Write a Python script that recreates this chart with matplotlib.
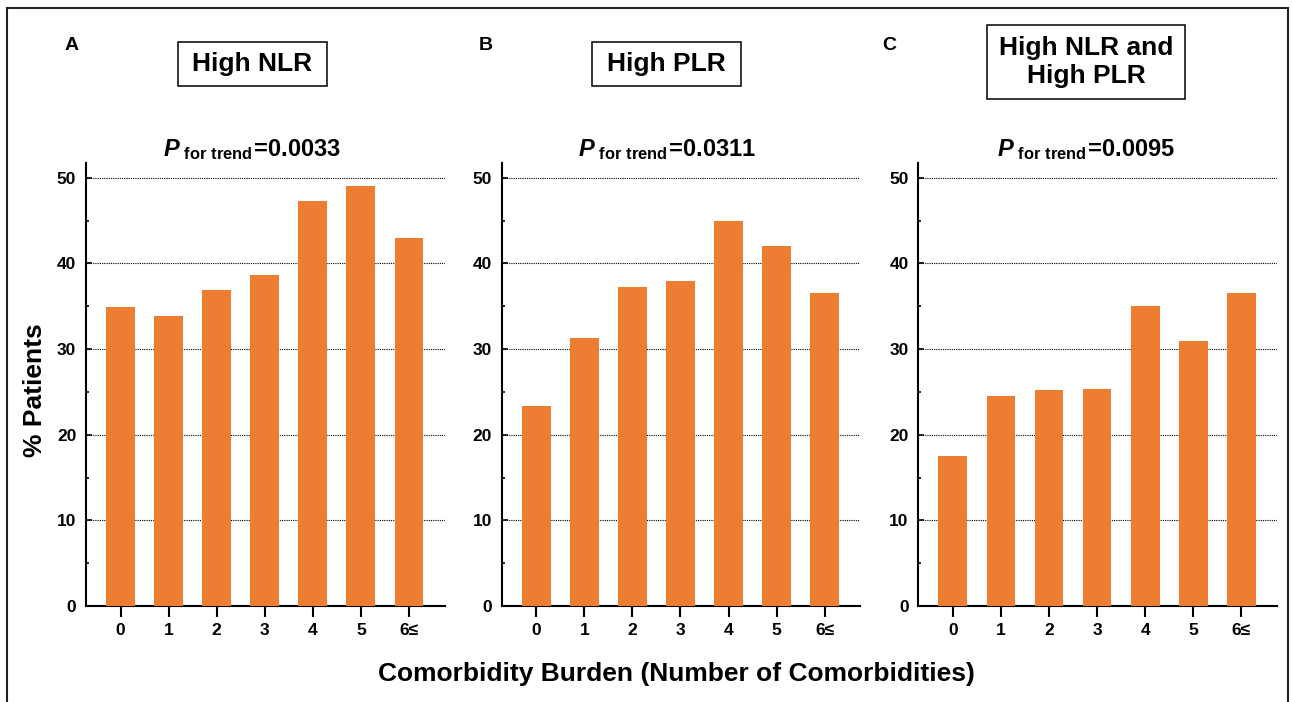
import matplotlib
matplotlib.use("Agg")
import matplotlib.pyplot as plt
from matplotlib.patches import Rectangle
from matplotlib.ticker import MultipleLocator

plt.rcParams['font.family'] = ['Liberation Sans', 'DejaVu Sans']
plt.rcParams['font.weight'] = 'bold'
plt.rcParams['mathtext.fontset'] = 'custom'
plt.rcParams['mathtext.rm'] = 'Liberation Sans:bold'
plt.rcParams['mathtext.bf'] = 'Liberation Sans:bold'
plt.rcParams['mathtext.it'] = 'Liberation Sans:italic:bold'

# ---- data ----
categories = ['0', '1', '2', '3', '4', '5', '6≤']
high_nlr = [34.9, 33.9, 36.9, 38.6, 47.3, 49.0, 43.0]
high_plr = [23.4, 31.3, 37.2, 37.9, 45.0, 42.0, 36.5]
high_both = [17.5, 24.5, 25.2, 25.4, 35.0, 30.9, 36.6]
panel_letters = ['A', 'B', 'C']
panel_titles = ['High NLR', 'High PLR', 'High NLR and\nHigh PLR']
p_values = ['0.0033', '0.0311', '0.0095']
y_ticks = [0, 10, 20, 30, 40, 50]
y_label = '% Patients'
x_label = 'Comorbidity Burden (Number of Comorbidities)'

BAR_COLOR = '#ED7D31'
W, H = 1293, 702
fig = plt.figure(figsize=(W / 100, H / 100), dpi=100)


def fx(x):
    return x / W


def fy(y):
    return 1 - y / H


axes_left = [86, 501.7, 918.3]
axes_w = 358.5
ax_top, ax_bot = 163.3, 606
title_cx = [252.5, 667, 1086]
boxes = [(178, 42, 327, 85.5), (592, 42.5, 740.7, 85.7), (987, 24.6, 1185, 99)]
letter_pos = [(71.5, 46), (486, 46), (889, 46)]

series = [high_nlr, high_plr, high_both]
for i in range(3):
    ax = fig.add_axes([fx(axes_left[i]), fy(ax_bot), axes_w / W, (ax_bot - ax_top) / H])
    xs = list(range(len(categories)))
    ax.bar(xs, series[i], width=0.6, color=BAR_COLOR, zorder=3)
    ax.set_xlim(-0.72, 6.74)
    ax.set_ylim(0, 51.7)
    ax.set_xticks(xs)
    ax.set_xticklabels(categories)
    ax.set_yticks(y_ticks)
    ax.yaxis.set_minor_locator(MultipleLocator(5))
    ax.yaxis.grid(True, which='major', linestyle=(0, (1, 1)), color='black', linewidth=0.8, zorder=0)
    ax.set_axisbelow(True)
    for s in ['top', 'right']:
        ax.spines[s].set_visible(False)
    for s in ['left', 'bottom']:
        ax.spines[s].set_linewidth(1.5)
    ax.tick_params(axis='x', direction='out', length=8, width=1.5, pad=4.5, labelsize=12.5)
    ax.tick_params(axis='y', which='major', direction='in', length=4, width=1.2, pad=7, labelsize=12.5)
    ax.tick_params(axis='y', which='minor', direction='in', length=2.5, width=1.2)
    for lab in ax.get_xticklabels() + ax.get_yticklabels():
        lab.set_fontweight('bold')

    # panel letter
    fig.text(fx(letter_pos[i][0]), fy(letter_pos[i][1]), panel_letters[i],
             ha='center', va='center', fontsize=14, fontweight='bold')
    # title box
    x0, y0, x1, y1 = boxes[i]
    fig.add_artist(Rectangle((fx(x0), fy(y1)), (x1 - x0) / W, (y1 - y0) / H,
                             transform=fig.transFigure, fill=False, edgecolor='black', linewidth=1.1))
    fig.text(fx((x0 + x1) / 2), fy((y0 + y1) / 2), panel_titles[i], ha='center', va='center',
             fontsize=19, fontweight='bold', linespacing=1.2)
    # P for trend
    fig.text(fx(title_cx[i]), fy(156.5),
             r'$\mathit{P}_{\mathrm{\ for\ trend}}\!\mathrm{=}\!\mathrm{' + p_values[i] + '}$',
             ha='center', va='baseline', fontsize=17)

fig.text(fx(35), fy(390.5), y_label, rotation=90, ha='center', va='center', fontsize=19, fontweight='bold')
fig.text(fx(676.5), fy(674), x_label, ha='center', va='center', fontsize=19, fontweight='bold')

# outer frame (top, left, right; bottom off-image)
fig.add_artist(Rectangle((fx(7), fy(720)), (1288 - 7) / W, (720 - 8.5) / H,
                         transform=fig.transFigure, fill=False, edgecolor='#222222', linewidth=1.5,
                         clip_on=False))

fig.savefig('out.png', dpi=100)
